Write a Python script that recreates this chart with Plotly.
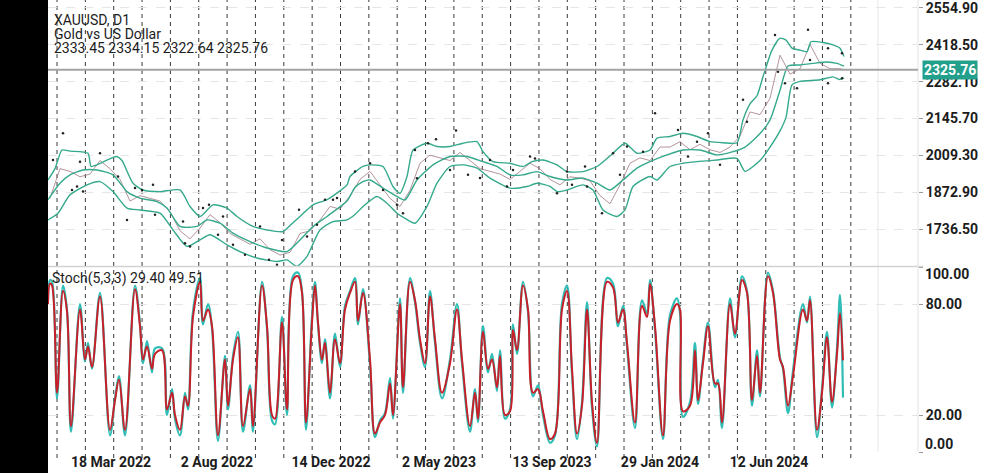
import plotly.graph_objects as go

# x is a bar position along the time axis (0 = first bar at the left edge)

# Bollinger bands (20)
upper_pos = [0, 7, 14, 22, 40, 43, 49, 65, 69, 74, 85, 95, 112, 132, 142, 152, 165, 179, 189, 205, 219, 235,
             245, 252, 265, 279, 299, 302, 315, 322, 335, 345, 352, 359, 365, 379, 389, 402, 415, 429, 435, 445,
             462, 475, 484, 495, 509, 519, 535, 549, 565, 577, 589, 602, 609, 622, 635, 649, 662, 675, 689, 695,
             702, 709, 715, 724, 732, 738, 744, 752, 759, 763, 775, 785, 792, 796]
upper_val = [1918, 1960, 2029, 2025, 2017, 1968, 1974, 2002, 2005, 1990, 1906, 1881, 1875, 1881, 1820, 1783, 1826,
             1814, 1783, 1746, 1733, 1727, 1760, 1783, 1826, 1845, 1900, 1931, 1968, 1974, 1968, 1894, 1869, 1931,
             2029, 2054, 2042, 2042, 2054, 2060, 2023, 1986, 1980, 1968, 1986, 1992, 1974, 1949, 1949, 1968, 2017,
             2054, 2017, 2029, 2073, 2079, 2091, 2079, 2060, 2056, 2056, 2140, 2200, 2230, 2300, 2399, 2443, 2436,
             2406, 2399, 2393, 2430, 2427, 2418, 2406, 2375]

middle_pos = [0, 12, 22, 35, 49, 65, 79, 92, 109, 119, 132, 149, 159, 172, 185, 202, 219, 239, 252, 265, 279, 299,
              307, 315, 322, 335, 349, 357, 369, 385, 402, 419, 435, 449, 462, 475, 489, 502, 519, 535, 549, 562,
              575, 589, 602, 619, 635, 652, 669, 685, 697, 712, 722, 732, 740, 752, 765, 779, 789, 796]
middle_val = [1845, 1906, 1937, 1955, 1955, 1937, 1875, 1851, 1838, 1814, 1746, 1746, 1770, 1758, 1721, 1690, 1666,
              1653, 1696, 1746, 1783, 1840, 1890, 1912, 1918, 1888, 1857, 1844, 1918, 1974, 2005, 2005, 1986, 1968,
              1937, 1937, 1949, 1931, 1918, 1925, 1906, 1881, 1918, 1962, 1986, 2011, 2029, 2029, 2011, 2023, 2040,
              2090, 2140, 2250, 2340, 2344, 2350, 2355, 2350, 2340]

lower_pos = [0, 10, 22, 39, 52, 65, 79, 92, 112, 125, 139, 152, 162, 179, 192, 209, 229, 239, 249, 259, 272, 285,
             299, 307, 315, 329, 339, 349, 357, 367, 379, 389, 402, 415, 429, 442, 462, 479, 489, 502, 509, 519,
             535, 545, 555, 569, 577, 585, 602, 609, 622, 635, 649, 669, 689, 697, 712, 722, 732, 738, 744, 752,
             772, 785, 792, 796]
lower_val = [1770, 1795, 1863, 1900, 1912, 1875, 1814, 1807, 1795, 1733, 1672, 1696, 1715, 1678, 1653, 1629, 1616,
             1622, 1598, 1635, 1733, 1764, 1770, 1790, 1820, 1857, 1832, 1795, 1776, 1758, 1820, 1906, 1968, 1974,
             1962, 1925, 1888, 1894, 1906, 1894, 1875, 1881, 1900, 1881, 1807, 1783, 1807, 1894, 1931, 1918, 1968,
             1980, 1986, 1992, 1998, 1950, 1990, 2040, 2100, 2150, 2270, 2283, 2289, 2300, 2290, 2296]

# closing prices (sampled)
close_pos = [2, 12, 22, 32, 42, 52, 62, 72, 82, 92, 102, 112, 122, 132, 142, 152, 162, 172, 182, 192, 202, 212,
             222, 232, 242, 252, 262, 272, 282, 292, 302, 312, 322, 332, 342, 352, 362, 372, 382, 392, 402, 412,
             422, 432, 442, 452, 462, 472, 482, 492, 502, 512, 522, 532, 542, 552, 562, 572, 582, 592, 602, 612,
             622, 632, 642, 652, 662, 672, 682, 692, 702, 712, 722, 732, 742, 752, 762, 772, 782, 792, 797]
close_val = [1850, 1960, 1950, 1930, 1940, 1990, 1960, 1920, 1840, 1860, 1850, 1840, 1800, 1730, 1700, 1740, 1790,
             1760, 1720, 1700, 1680, 1700, 1660, 1640, 1650, 1720, 1730, 1770, 1820, 1810, 1860, 1920, 1950, 1900,
             1850, 1820, 1880, 1980, 2010, 2000, 1990, 2020, 1990, 1960, 1950, 1940, 1920, 1950, 1980, 1960, 1920,
             1900, 1930, 1925, 1915, 1860, 1830, 1900, 1980, 2000, 1990, 2040, 2040, 2060, 2030, 2050, 2030, 2020,
             2040, 2080, 2170, 2160, 2220, 2380, 2310, 2330, 2420, 2350, 2330, 2330, 2326]

# small fractal dots
dot_pos = [5, 15, 24, 29, 32, 35, 52, 70, 79, 87, 94, 105, 107, 135, 137, 142, 155, 161, 170, 175, 185, 197, 212,
           221, 229, 234, 251, 259, 269, 277, 285, 289, 307, 322, 335, 349, 355, 367, 369, 380, 388, 402, 408, 420,
           432, 442, 459, 465, 482, 487, 509, 519, 524, 537, 539, 554, 565, 572, 579, 595, 607, 630, 640, 649, 660,
           672, 695, 699, 727, 730, 737, 749, 760, 762, 780, 780, 794, 794]
dot_val = [1992, 2091, 1881, 1894, 1986, 1875, 2017, 1931, 1770, 1888, 1881, 1900, 1789, 1764, 1684, 1672, 1814,
           1826, 1715, 1783, 1678, 1641, 1746, 1623, 1604, 1696, 1808, 1709, 1752, 1845, 1845, 1851, 1949, 1980,
           1881, 1826, 1795, 2029, 1924, 2054, 2069, 1955, 2101, 1937, 1925, 1992, 1894, 1955, 2005, 1998, 1869,
           1949, 1900, 1968, 1894, 1795, 2017, 1937, 2042, 2023, 2165, 2103, 2005, 2060, 2091, 1974, 2215, 2134,
           2455, 2319, 2276, 2258, 2474, 2362, 2406, 2276, 2387, 2295]

last_price = 2325.76
price_ticks = [1736.50, 1872.90, 2009.30, 2145.70, 2282.10, 2418.50, 2554.90]

# Stochastic(5,3,3): main (%K) and signal (%D)
stoch_pos = [0, 2, 4, 9, 15, 19, 23, 32, 37, 40, 44, 52, 62, 67, 71, 77, 87, 92, 95, 99, 104, 107, 114, 119, 124,
             127, 132, 137, 140, 145, 152, 155, 160, 164, 170, 177, 180, 185, 190, 195, 202, 205, 214, 219, 224,
             227, 234, 239, 245, 250, 254, 258, 264, 267, 270, 274, 277, 282, 287, 292, 297, 302, 307, 310, 315,
             322, 327, 332, 337, 342, 345, 352, 355, 362, 367, 372, 377, 382, 387, 394, 402, 409, 414, 422, 427,
             430, 435, 440, 444, 449, 452, 457, 462, 465, 469, 475, 480, 485, 490, 495, 502, 507, 514, 519, 524,
             529, 534, 539, 544, 549, 559, 565, 570, 575, 579, 587, 594, 599, 602, 607, 615, 622, 629, 632, 635,
             642, 647, 650, 655, 660, 667, 670, 674, 682, 687, 694, 699, 704, 709, 712, 720, 725, 732, 735, 740,
             745, 755, 759, 762, 769, 774, 779, 784, 789, 792, 795]
stoch_signal = [80, 91, 90, 32, 87, 76, 14, 77, 50, 57, 46, 84, 12, 28, 39, 12, 88, 68, 50, 57, 45, 53, 55, 23, 32,
                20, 12, 30, 25, 73, 92, 71, 77, 68, 9, 50, 25, 50, 62, 14, 34, 14, 90, 68, 20, 18, 70, 23, 93, 95,
                86, 16, 70, 90, 70, 50, 59, 32, 61, 48, 77, 86, 92, 71, 86, 50, 10, 16, 20, 37, 20, 80, 35, 92, 82,
                61, 48, 84, 61, 32, 48, 77, 50, 14, 32, 18, 65, 45, 50, 35, 52, 20, 22, 66, 55, 90, 77, 32, 34, 22,
                7, 10, 77, 87, 45, 10, 25, 77, 27, 5, 92, 89, 70, 77, 59, 16, 79, 73, 91, 68, 9, 71, 80, 77, 22,
                25, 55, 28, 48, 68, 37, 37, 16, 80, 64, 93, 86, 28, 52, 32, 95, 86, 50, 46, 25, 41, 77, 71, 82, 12,
                32, 62, 27, 53, 75, 49.51]
stoch_main = [82, 93, 92, 29, 90, 77, 11, 80, 49, 59, 45, 86, 9, 29, 41, 9, 90, 69, 48, 60, 43, 56, 56, 20, 34, 18,
              9, 32, 23, 76, 94, 69, 80, 67, 6, 52, 23, 52, 65, 11, 36, 11, 92, 67, 17, 15, 73, 20, 95, 97, 87, 12,
              73, 92, 69, 48, 61, 29, 64, 46, 79, 87, 94, 69, 88, 47, 8, 17, 21, 40, 18, 83, 32, 94, 81, 59, 46,
              87, 59, 29, 50, 80, 48, 11, 34, 16, 68, 43, 53, 33, 55, 18, 23, 69, 53, 92, 76, 30, 36, 20, 5, 9, 80,
              90, 42, 7, 27, 81, 24, 3, 94, 91, 68, 79, 57, 13, 82, 75, 93, 66, 7, 74, 83, 75, 19, 27, 59, 26, 50,
              70, 35, 39, 13, 83, 62, 95, 87, 25, 55, 30, 97, 87, 51, 45, 21, 44, 80, 70, 84, 8, 34, 65, 24, 56,
              85, 29.40]

date_pos = [63, 169, 283, 391, 504, 612, 721]
date_text = ["18 Mar 2022", "2 Aug 2022", "14 Dec 2022", "2 May 2023", "13 Sep 2023", "29 Jan 2024", "12 Jun 2024"]

W, H = 1000, 473
ML, MR, MT, MB = 48, 82, 0, 21
PH = H - MT - MB  # plot height in px
X_END = W - ML - MR


def py(ypx):
    # pixel row -> paper y
    return 1 - ypx / PH


BAND = "#34a98c"
TXT = "#1c1c1c"
FONT = "Roboto"

fig = go.Figure()
fig.add_trace(go.Scatter(x=close_pos, y=close_val, mode="lines",
                         line=dict(color="rgba(160,120,130,0.8)", width=1), yaxis="y"))
for xs, ys in ((upper_pos, upper_val), (middle_pos, middle_val), (lower_pos, lower_val)):
    fig.add_trace(go.Scatter(x=xs, y=ys, mode="lines", yaxis="y",
                             line=dict(color=BAND, width=1.4, shape="spline", smoothing=0.6)))
fig.add_trace(go.Scatter(x=dot_pos, y=dot_val, mode="markers", yaxis="y",
                         marker=dict(color="#222", size=2.5)))
fig.add_trace(go.Scatter(x=stoch_pos, y=stoch_main, mode="lines", yaxis="y2",
                         line=dict(color="#2fbdb5", width=2.2, shape="spline", smoothing=1)))
fig.add_trace(go.Scatter(x=stoch_pos, y=stoch_signal, mode="lines", yaxis="y2",
                         line=dict(color="#c8202a", width=2, shape="spline", smoothing=1)))

shapes = []
# dashed vertical grid
for i in range(29):
    gx = 9 + 28.35 * i
    shapes.append(dict(type="line", xref="x", yref="paper", x0=gx, x1=gx, y0=-6 / PH, y1=1,
                       line=dict(color="#3a3a3a", width=1, dash="4px,4px"), layer="below"))
shapes.append(dict(type="line", xref="x", yref="paper", x0=830, x1=830, y0=0, y1=1,
                   line=dict(color="#e8e8e8", width=1), layer="below"))
# panel separator and right border
shapes.append(dict(type="line", xref="paper", yref="paper", x0=0, x1=1 + 5 / X_END, y0=py(266.5), y1=py(266.5),
                   line=dict(color="#d2d2d2", width=1.5)))
shapes.append(dict(type="line", xref="paper", yref="paper", x0=1, x1=1, y0=0, y1=1,
                   line=dict(color="#e2e2e2", width=1)))
# last price line
shapes.append(dict(type="line", xref="paper", yref="y", x0=0, x1=1, y0=last_price, y1=last_price,
                   line=dict(color="#a3a3a3", width=2)))
# black strip on the left
shapes.append(dict(type="rect", xref="paper", yref="paper", x0=-ML / X_END, x1=0, y0=-MB / PH, y1=1,
                   fillcolor="black", line=dict(width=0), layer="above"))

annotations = [
    dict(text="XAUUSD, D1", x=4 / X_END, y=py(20)),
    dict(text="Gold vs US Dollar", x=4 / X_END, y=py(34)),
    dict(text="2333.45 2334.15 2322.64 2325.76", x=4 / X_END, y=py(48)),
    dict(text="Stoch(5,3,3) 29.40 49.51", x=2 / X_END, y=py(278)),
]
for a in annotations:
    a.update(xref="paper", yref="paper", xanchor="left", yanchor="middle", showarrow=False,
             font=dict(family=FONT, size=14, color=TXT))
annotations += [
    dict(text="<b>100.00</b>", xref="paper", yref="paper", x=1, y=py(274), xanchor="left", yanchor="middle",
         xshift=5, showarrow=False, font=dict(family=FONT, size=14, color=TXT)),
    dict(text="<b>0.00</b>", xref="paper", yref="paper", x=1, y=py(444), xanchor="left", yanchor="middle",
         xshift=5, showarrow=False, font=dict(family=FONT, size=14, color=TXT)),
    dict(text="<b>%.2f</b>" % last_price, xref="paper", yref="y", x=1, y=last_price, xanchor="left",
         yanchor="middle", xshift=4, showarrow=False, bgcolor="#22a08b", borderpad=1,
         font=dict(family=FONT, size=14, color="white")),
]

fig.update_layout(
    width=W, height=H, margin=dict(l=ML, r=MR, t=MT, b=MB),
    paper_bgcolor="white", plot_bgcolor="white", showlegend=False,
    shapes=shapes, annotations=annotations,
    xaxis=dict(domain=[0, 1], range=[0, X_END], anchor="y2", showgrid=False, zeroline=False,
               tickvals=date_pos, ticktext=date_text, ticks="", ticklabeloverflow="allow",
               tickfont=dict(family=FONT, size=14, color=TXT, weight="bold")),
    yaxis=dict(domain=[py(266), 1], range=[1599.5, 2584.5], side="right", anchor="x",
               tickvals=price_ticks, ticktext=["%.2f" % v for v in price_ticks], ticklabeloverflow="allow",
               ticks="outside", ticklen=4, tickcolor="#999", showgrid=True, gridcolor="#e6e6e6",
               griddash="dash", zeroline=False,
               tickfont=dict(family=FONT, size=14, color=TXT, weight="bold")),
    yaxis2=dict(domain=[0, py(267)], range=[0, 100], side="right", anchor="x",
                tickvals=[0, 20, 80, 100], ticktext=["", "20.00", "80.00", ""], ticklabeloverflow="allow",
                ticks="outside", ticklen=4, tickcolor="#999", showgrid=True, gridcolor="#e6e6e6",
                griddash="dash", zeroline=False,
                tickfont=dict(family=FONT, size=14, color=TXT, weight="bold")),
)

fig.write_html("out.html", config={"displayModeBar": False},
               post_script="document.body.style.margin='0';")
